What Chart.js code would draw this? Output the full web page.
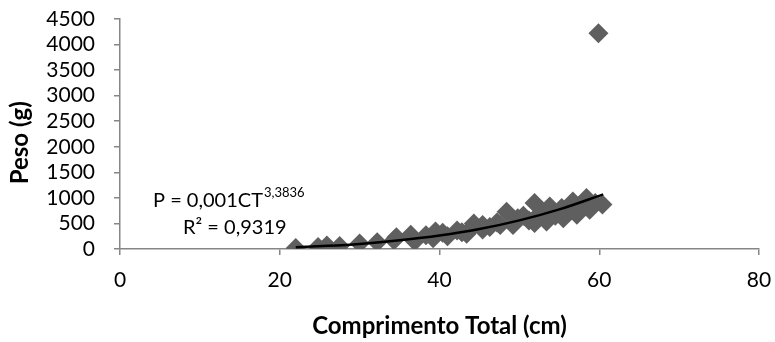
<!DOCTYPE html>
<html>
<head>
<meta charset="utf-8">
<script src="https://cdn.jsdelivr.net/npm/chart.js@4.4.1/dist/chart.umd.min.js"></script>
<style>
  html, body { margin: 0; padding: 0; background: #fff; }
  #wrap { width: 775px; height: 342px; position: relative; }
</style>
</head>
<body>
<div id="wrap"><canvas id="chart"></canvas></div>
<script>
// comprimento total (cm) and peso (g) of each fish
const comprimento = [22, 24.8, 25.9, 27.5, 30, 32.2, 34.3, 34.6, 36.4, 36.9, 38.3, 39.2, 39.5, 40.4, 41, 42.2, 42.8, 43.4, 43.8, 44.3, 45.4, 45.4, 46.3, 47.2, 47.6, 48.4, 49.2, 49.8, 50.5, 51.2, 51.9, 51.9, 52.6, 53.4, 53.8, 54.5, 55.3, 55.5, 56.2, 56.7, 57.2, 57.8, 58.4, 58.8, 59.5, 60.4, 59.9];
const peso = [20, 40, 70, 60, 110, 130, 170, 230, 280, 150, 270, 210, 340, 320, 250, 360, 330, 300, 380, 500, 470, 380, 430, 520, 470, 730, 470, 600, 650, 560, 900, 510, 700, 540, 830, 650, 800, 600, 720, 930, 670, 850, 1000, 770, 900, 870, 4220];

// power trendline
const trendX = [22, 26, 30, 35, 40, 45, 50, 55, 60.5];
const trendY = [35, 62, 100, 170, 263, 390, 560, 775, 1070];

const xTicks = [0, 20, 40, 60, 80];
const yTicks = [0, 500, 1000, 1500, 2000, 2500, 3000, 3500, 4000, 4500];

const FONT = "Lato, sans-serif";
const axisGrey = "#868686";

const points = comprimento.map((c, i) => ({ x: c, y: peso[i] }));
const trend = trendX.map((c, i) => ({ x: c, y: trendY[i] }));

// equation + R² text box
const equationLabel = {
  id: "equationLabel",
  afterDraw(chart) {
    const ctx = chart.ctx;
    ctx.save();
    ctx.fillStyle = "#000";
    ctx.textBaseline = "alphabetic";
    ctx.font = "20px " + FONT;
    const main = "P = 0,001CT";
    ctx.fillText(main, 153, 207);
    const w = ctx.measureText(main).width;
    ctx.font = "13px " + FONT;
    ctx.fillText("3,3836", 153 + w + 1, 197);
    ctx.font = "20px " + FONT;
    ctx.fillText("R² = 0,9319", 183, 234);
    ctx.restore();
  }
};

new Chart(document.getElementById("chart"), {
  type: "scatter",
  data: {
    datasets: [
      {
        label: "tendência",
        data: trend,
        showLine: true,
        cubicInterpolationMode: "monotone",
        borderColor: "#000",
        borderWidth: 2.5,
        pointRadius: 0,
        order: 0
      },
      {
        label: "Peso",
        data: points,
        pointStyle: "rectRot",
        pointRadius: 10,
        pointBackgroundColor: "#5f5f5f",
        pointBorderWidth: 0,
        order: 1
      }
    ]
  },
  options: {
    responsive: true,
    maintainAspectRatio: false,
    animation: false,
    layout: { padding: { top: 19, right: 16, left: 0, bottom: 0 } },
    plugins: { legend: { display: false }, tooltip: { enabled: false } },
    scales: {
      x: {
        type: "linear",
        min: 0,
        max: 80,
        afterBuildTicks: (s) => { s.ticks = xTicks.map(v => ({ value: v })); },
        afterFit: (s) => { s.height = 93; s.paddingLeft = 0; s.paddingRight = 0; },
        ticks: { color: "#000", font: { family: FONT, size: 21 }, padding: 13, autoSkip: false, maxRotation: 0, callback: (v) => String(v) },
        grid: { drawOnChartArea: false, drawTicks: true, tickLength: 6, color: axisGrey, lineWidth: 1.5 },
        border: { display: true, color: axisGrey, width: 1.5 },
        title: {
          display: true,
          text: "Comprimento Total (cm)",
          color: "#000",
          font: { family: FONT, size: 24, weight: "bold" },
          padding: { top: 0, bottom: 1 }
        }
      },
      y: {
        type: "linear",
        min: 0,
        max: 4500,
        afterBuildTicks: (s) => { s.ticks = yTicks.map(v => ({ value: v })); },
        afterFit: (s) => { s.width = 120; s.paddingTop = 0; s.paddingBottom = 0; },
        ticks: { color: "#000", font: { family: FONT, size: 21 }, padding: 19, autoSkip: false, callback: (v) => String(v) },
        grid: { drawOnChartArea: false, drawTicks: true, tickLength: 6, color: axisGrey, lineWidth: 1.5 },
        border: { display: true, color: axisGrey, width: 1.5 },
        title: {
          display: true,
          text: "Peso (g)   ",
          color: "#000",
          font: { family: FONT, size: 24, weight: "bold" },
          padding: { top: 6, bottom: 0 }
        }
      }
    }
  },
  plugins: [equationLabel]
});
</script>
</body>
</html>
